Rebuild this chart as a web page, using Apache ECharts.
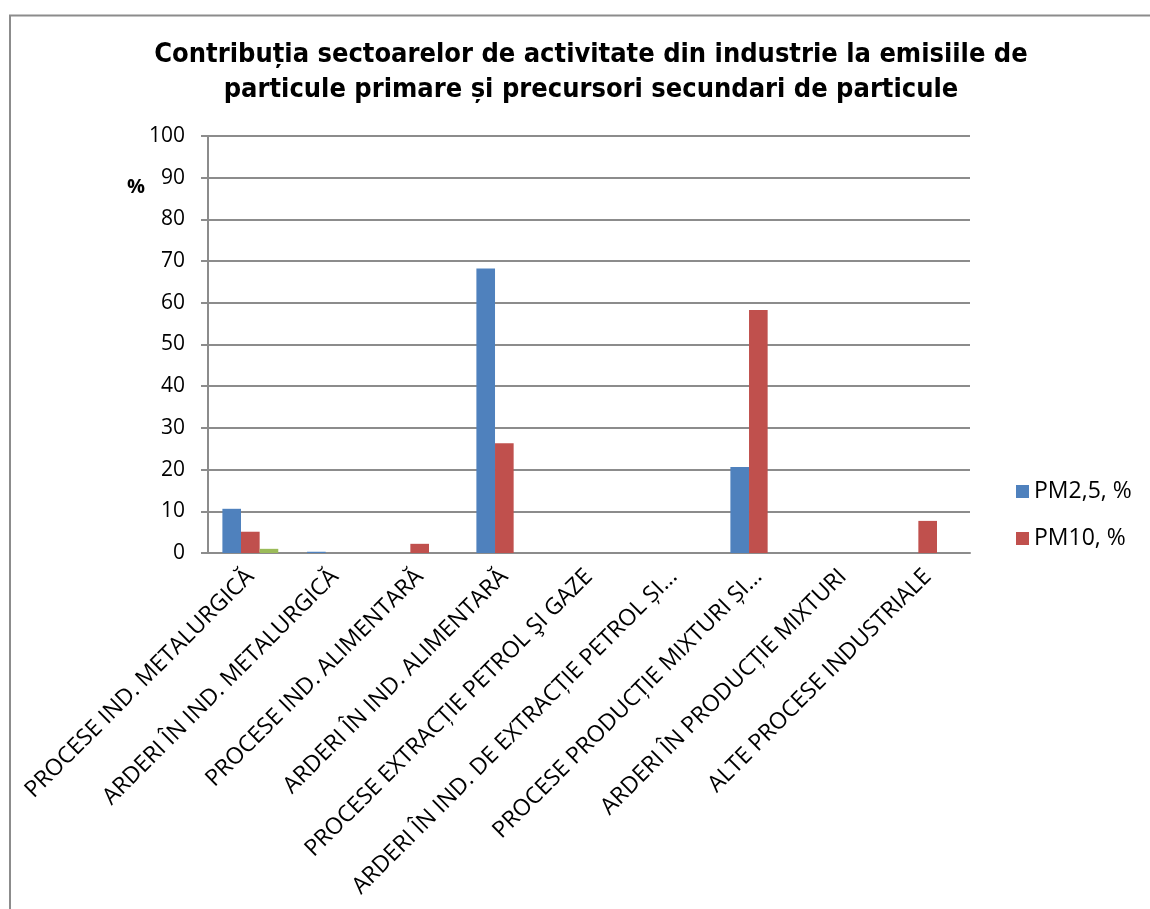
<!DOCTYPE html>
<html>
<head>
<meta charset="utf-8">
<script src="https://cdn.jsdelivr.net/npm/echarts@6/dist/echarts.min.js"></script>
<style>
html,body{margin:0;padding:0;background:#fff;}
#chart{width:1150px;height:909px;}
</style>
</head>
<body>
<div id="chart"></div>
<script>
var categories = [
  "PROCESE IND. METALURGICĂ",
  "ARDERI ÎN IND. METALURGICĂ",
  "PROCESE IND. ALIMENTARĂ",
  "ARDERI ÎN IND. ALIMENTARĂ",
  "PROCESE EXTRACȚIE PETROL ŞI GAZE",
  "ARDERI ÎN IND. DE EXTRACȚIE PETROL ȘI...",
  "PROCESE PRODUCȚIE MIXTURI ȘI...",
  "ARDERI ÎN PRODUCȚIE MIXTURI",
  "ALTE PROCESE INDUSTRIALE"
];
var pm25 = [10.6, 0.3, 0, 68.2, 0, 0, 20.6, 0, 0];
var pm10 = [5.1, 0, 2.2, 26.3, 0, 0, 58.3, 0, 7.7];
var series3 = [1.0, 0, 0, 0, 0, 0, 0, 0, 0];
var yTicks = { min: 0, max: 100, interval: 10 };

var chart = echarts.init(document.getElementById('chart'));
var txt = '#000';
var fontFam = '"Open Sans", "DejaVu Sans", sans-serif';
chart.setOption({
  backgroundColor: '#fff',
  animation: false,
  title: {
    text: 'Contribuția sectoarelor de activitate din industrie la emisiile de\nparticule primare și precursori secundari de particule',
    left: 586, top: 32, textAlign: 'center',
    textStyle: { fontFamily: '"DejaVu Sans Condensed", "DejaVu Sans", sans-serif', fontWeight: 'bold', fontSize: 27, lineHeight: 35, color: txt }
  },
  legend: {
    data: ['PM2,5, %', 'PM10, %'],
    orient: 'vertical', left: 1011, top: 475, itemWidth: 13, itemHeight: 13, itemGap: 24,
    icon: 'rect',
    textStyle: { fontFamily: fontFam, fontSize: 23, color: txt }
  },
  grid: { left: 208, right: 180, top: 136, bottom: 356, containLabel: false },
  xAxis: {
    type: 'category', data: categories,
    axisLine: { lineStyle: { color: '#8c8c8c', width: 2 } },
    axisTick: { show: false },
    axisLabel: { rotate: 45, interval: 0, fontFamily: fontFam, fontSize: 23, color: txt, margin: 20 }
  },
  yAxis: {
    type: 'value', min: yTicks.min, max: yTicks.max, interval: yTicks.interval,
    axisLine: { show: true, lineStyle: { color: '#8c8c8c', width: 2 } },
    axisTick: { show: true, length: 7, lineStyle: { color: '#8c8c8c', width: 2 } },
    splitLine: { lineStyle: { color: '#8c8c8c', width: 2 } },
    axisLabel: { fontFamily: fontFam, fontSize: 21, color: txt, margin: 23 }
  },
  graphic: [
    { type: 'text', left: 127, top: 177, style: { text: '%', font: 'bold 20px "Open Sans", sans-serif', fill: txt } },
    { type: 'polyline', shape: { points: [[10, 909], [10, 15.5], [1150, 15.5]] }, style: { stroke: '#8c8c8c', lineWidth: 2, fill: null } }
  ],
  series: [
    { name: 'PM2,5, %', type: 'bar', data: pm25, barGap: '0%', barCategoryGap: '34%', itemStyle: { color: '#4f81bd' } },
    { name: 'PM10, %', type: 'bar', data: pm10, barGap: '0%', barCategoryGap: '34%', itemStyle: { color: '#c0504d' } },
    { name: 'Seria 3', type: 'bar', data: series3, barGap: '0%', barCategoryGap: '34%', itemStyle: { color: '#9bbb59' } }
  ]
});
</script>
</body>
</html>
